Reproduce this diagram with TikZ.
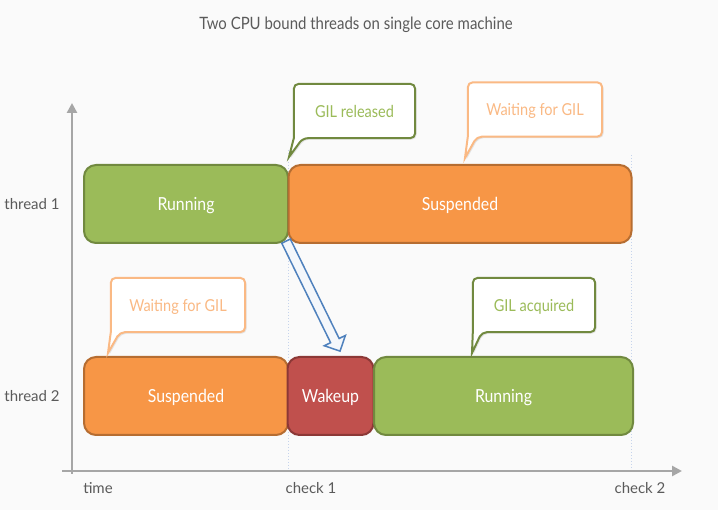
\documentclass[tikz,border=0pt]{standalone}
\usepackage{fontspec}
\setmainfont{Lato}
\newfontfamily\condfont[FakeStretch=0.88]{Lato}
\usetikzlibrary{arrows.meta,shapes.arrows,shadows,calc}

\definecolor{bggray}{HTML}{FAFAFA}
\definecolor{runfill}{HTML}{9BBB59}
\definecolor{rundraw}{HTML}{71893F}
\definecolor{susfill}{HTML}{F79646}
\definecolor{susdraw}{HTML}{B66D31}
\definecolor{wakefill}{HTML}{C0504D}
\definecolor{wakedraw}{HTML}{8C3836}
\definecolor{axisgray}{HTML}{A6A6A6}
\definecolor{labelgray}{HTML}{5A5A5A}
\definecolor{checkline}{HTML}{C6D4EC}
\definecolor{bubbleorange}{HTML}{FAB984}
\definecolor{arrowblue}{HTML}{4F81BD}

\tikzset{
  statebox/.style={rounded corners=12pt, line width=2pt, minimum height=78pt,
    inner sep=0pt, text depth=0pt, text=white, font=\condfont\fontsize{18}{20}\selectfont},
  runbox/.style={statebox, fill=runfill, draw=rundraw},
  susbox/.style={statebox, fill=susfill, draw=susdraw},
  wakebox/.style={statebox, fill=wakefill, draw=wakedraw},
  bubbletext/.style={minimum height=54pt, inner sep=0pt, text depth=0pt,
    font=\condfont\fontsize{16.5}{18}\selectfont},
  bubble/.style={line width=2pt, fill=white,
    drop shadow={opacity=0.18, shadow xshift=1.5pt, shadow yshift=-1.5pt}},
  bubblegreen/.style={bubble, draw=rundraw},
  bubbleorng/.style={bubble, draw=bubbleorange},
  axis/.style={line width=2.5pt, draw=axisgray, -{Triangle[length=10pt,width=10pt]}},
  axislabel/.style={text=labelgray, font=\fontsize{15}{17}\selectfont},
  checkmark/.style={draw=checkline, line width=1pt, dotted},
  wakearrow/.style={single arrow, draw=arrowblue, fill=white!94!arrowblue,
    line width=1.5pt, inner xsep=0pt, inner ysep=4pt,
    single arrow head extend=7pt, single arrow head indent=0pt},
}

\begin{document}
\begin{tikzpicture}[x=1pt,y=-1pt]
  \fill[bggray] (0,0) rectangle (718,510);
  \useasboundingbox (0,0) rectangle (718,510);

  %%% title
  \node[text=labelgray, font=\condfont\fontsize{17}{19}\selectfont] (title) at (356,25)
    {Two CPU bound threads on single core machine};

  %%% check lines
  \draw[checkmark] (288,150) -- (288,470);
  \draw[checkmark] (631,155) -- (631,470);

  %%% axes
  \draw[axis] (72,474) -- (72,103);
  \draw[axis] (62,471) -- (682,471);

  \node[axislabel] (thr1) at (32,204) {thread 1};
  \node[axislabel] (thr2) at (32,396) {thread 2};
  \node[axislabel] (time) at (98,488) {time};
  \node[axislabel] (chk1) at (311,488) {check 1};
  \node[axislabel] (chk2) at (640,488) {check 2};

  %%% thread 1
  \node[runbox, minimum width=204pt] (run1) at (186,204) {Running};
  \node[susbox, minimum width=343pt] (sus1) at (460,204) {Suspended};

  %%% thread 2
  \node[susbox, minimum width=204pt] (sus2) at (186,396) {Suspended};
  \node[wakebox, minimum width=86pt] (wake2) at (330.5,396) {Wakeup};
  \node[runbox, minimum width=259pt] (run2) at (503.5,396) {Running};

  %%% hand over
  \coordinate (wkfrom) at (285,239);
  \coordinate (wkto) at (339,349);
  \path let \p1=($(wkto)-(wkfrom)$), \n1={atan2(\y1,\x1)}, \n2={veclen(\x1,\y1)} in
    node[wakearrow, rotate=\n1, minimum height=\n2] (handover) at ($(wkfrom)!0.5!(wkto)$) {};

  %%% callouts
  \node[bubbletext, minimum width=121pt] (rel) at (354.5,111) {};
  \coordinate (reltip) at (289,157);
  \draw[bubblegreen] (reltip) -- (rel.south west) [rounded corners=5pt] -- (rel.north west)
    -- (rel.north east) -- (rel.south east) -- ([xshift=9pt]rel.south west) [sharp corners] -- cycle;
  \node[bubbletext, text=runfill] at (rel) {GIL released};

  \node[bubbletext, minimum width=134pt] (wait1) at (535,109.5) {};
  \coordinate (wait1tip) at (465,158);
  \draw[bubbleorng] (wait1tip) -- (wait1.south west) [rounded corners=5pt] -- (wait1.north west)
    -- (wait1.north east) -- (wait1.south east) -- ([xshift=9pt]wait1.south west) [sharp corners] -- cycle;
  \node[bubbletext, text=bubbleorange] at (wait1) {Waiting for GIL};

  \node[bubbletext, minimum width=134pt] (wait2) at (178,305) {};
  \coordinate (wait2tip) at (108,353);
  \draw[bubbleorng] (wait2tip) -- (wait2.south west) [rounded corners=5pt] -- (wait2.north west)
    -- (wait2.north east) -- (wait2.south east) -- ([xshift=9pt]wait2.south west) [sharp corners] -- cycle;
  \node[bubbletext, text=bubbleorange] at (wait2) {Waiting for GIL};

  \node[bubbletext, minimum width=122pt] (acq) at (534,305) {};
  \coordinate (acqtip) at (472,353);
  \draw[bubblegreen] (acqtip) -- (acq.south west) [rounded corners=5pt] -- (acq.north west)
    -- (acq.north east) -- (acq.south east) -- ([xshift=9pt]acq.south west) [sharp corners] -- cycle;
  \node[bubbletext, text=runfill] at (acq) {GIL acquired};
\end{tikzpicture}
\end{document}
